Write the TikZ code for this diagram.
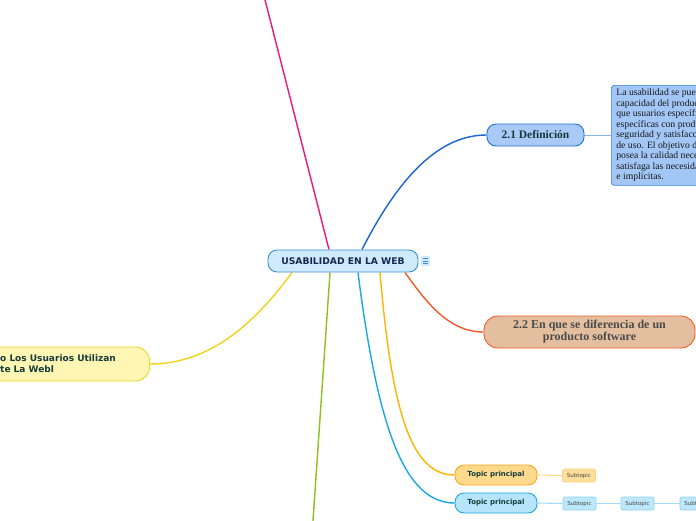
\documentclass[tikz,border=0pt]{standalone}
\usepackage{fontspec}
\usetikzlibrary{calc,backgrounds}
\newfontfamily\vsans{DejaVu Sans}
\newfontfamily\tserif{Liberation Serif}
\definecolor{cfill}{HTML}{CFEAFC}
\definecolor{cdraw}{HTML}{3C8FD4}
\definecolor{ctext}{HTML}{162A4E}
\definecolor{dfill}{HTML}{A9C9F7}
\definecolor{ddraw}{HTML}{1F6FD8}
\definecolor{gtext}{HTML}{133C3A}
\definecolor{tfill}{HTML}{A2C6F5}
\definecolor{tdraw}{HTML}{3A7FE0}
\definecolor{rfill}{HTML}{E3BF9F}
\definecolor{rdraw}{HTML}{F25A29}
\definecolor{rtext}{HTML}{4A4A4A}
\definecolor{yfill}{HTML}{FFF6B3}
\definecolor{ydraw}{HTML}{EFD624}
\definecolor{ofill}{HTML}{FFD98C}
\definecolor{odraw}{HTML}{F6A91C}
\definecolor{osfill}{HTML}{FFE09A}
\definecolor{osdraw}{HTML}{FFD27F}
\definecolor{bfill}{HTML}{B6E5FB}
\definecolor{bdraw}{HTML}{1BA7E6}
\definecolor{bsfill}{HTML}{BDE8FB}
\definecolor{bsdraw}{HTML}{8DD3F5}
\definecolor{pinkc}{HTML}{F2157A}
\definecolor{greenc}{HTML}{8CC21A}
\definecolor{yellowc}{HTML}{EFD41A}
\definecolor{cyanc}{HTML}{18A8E8}
\definecolor{orangec}{HTML}{FFB400}
\definecolor{redc}{HTML}{F05A28}
\definecolor{bluec}{HTML}{1A64D2}
\definecolor{olink}{HTML}{FFE08A}
\definecolor{blink}{HTML}{A5DCF5}
\definecolor{stext}{HTML}{444444}
\begin{document}
\begin{tikzpicture}[x=1pt,y=-1pt,
  conn/.style={line width=1.4pt},
  box/.style={draw, line width=0.9pt, inner sep=0pt},
  centerbox/.style={box, fill=cfill, draw=cdraw, minimum width=150pt, minimum height=22pt, rounded corners=9pt,
     font=\vsans\bfseries\fontsize{9.2}{10}\selectfont, text=ctext},
  defbox/.style={box, fill=dfill, draw=ddraw, minimum width=97pt, minimum height=22pt, rounded corners=9pt,
     font=\tserif\bfseries\fontsize{11.5}{12}\selectfont, text=gtext},
  textbox/.style={box, fill=tfill, draw=tdraw, line width=0.7pt, minimum width=120pt, minimum height=100pt, rounded corners=3pt,
     inner xsep=5pt, align=left, font=\tserif\fontsize{9.7}{10.5}\selectfont, text=black!90},
  diffbox/.style={box, fill=rfill, draw=rdraw, minimum width=211pt, minimum height=32pt, rounded corners=14pt,
     align=center, font=\tserif\bfseries\fontsize{12}{12}\selectfont, text=rtext},
  ybox/.style={box, fill=yfill, draw=ydraw, minimum width=220pt, minimum height=34pt, rounded corners=14pt},
  ytext/.style={inner sep=0pt, align=left, font=\vsans\bfseries\fontsize{9}{11}\selectfont, text=gtext},
  topicbox/.style={box, minimum width=82pt, minimum height=20pt, rounded corners=9pt,
     font=\vsans\bfseries\fontsize{7}{8}\selectfont, text=gtext},
  subbox/.style={box, line width=0.7pt, minimum width=33pt, minimum height=13pt, rounded corners=2pt,
     font=\vsans\fontsize{5.5}{6}\selectfont, text=stext},
  sublink/.style={line width=1.1pt}
]
\useasboundingbox (0,0) rectangle (696,520);
\clip (0,0) rectangle (696,520);

% nodes
\node[centerbox] (c) at (343,261) {USABILIDAD EN LA WEB};
\node[box, fill=cfill, draw=none, minimum width=9pt, minimum height=10pt] (ic) at (425.5,261) {};
\draw[cdraw, line width=0.8pt] ($(ic.center)+(-2.5,-2.5)$) -- ++(5,0)
  ($(ic.center)+(-2.5,0)$) -- ++(5,0) ($(ic.center)+(-2.5,2.5)$) -- ++(5,0);

\node[defbox] (d) at (535.5,135) {2.1 Definición};
\node[textbox, anchor=north west] (t) at (611,85) {La usabilidad se puede\\capacidad del producto\\que usuarios específicos\\específicas con productividad\\seguridad y satisfacción\\de uso. El objetivo de la\\posea la calidad necesaria\\satisfaga las necesidades\\e implícitas.};

\node[diffbox] (r) at (589.5,332) {2.2 En que se diferencia de un\\producto software};

\node[ybox, anchor=east] (y) at (150,364) {};
\node[ytext, anchor=west] (yt) at (0,364) {o Los Usuarios Utilizan\\te La Webl};

\node[topicbox, fill=ofill, draw=odraw] (o) at (496,475) {Topic principal};
\node[subbox, fill=osfill, draw=osdraw] (os) at (579,475.5) {Subtopic};

\node[topicbox, fill=bfill, draw=bdraw] (b) at (496,503) {Topic principal};
\node[subbox, fill=bsfill, draw=bsdraw] (bs1) at (579.5,503.5) {Subtopic};
\node[subbox, fill=bsfill, draw=bsdraw] (bs2) at (637.5,503.5) {Subtopic};
\node[subbox, fill=bsfill, draw=bsdraw] (bs3) at (696.5,503.5) {Subtopic};

\coordinate (top) at (263,-8);
\coordinate (bot) at (312.5,528);

% connectors
\begin{scope}[on background layer]
\draw[conn, pinkc] ($(c.north)+(-14,0)$) -- (top);
\draw[conn, greenc] ($(c.south)+(-13,0)$) -- (bot);
\draw[conn, yellowc] ($(c.south)+(-51,0)$) .. controls (250,330) and (205,364) .. (y.east);
\draw[conn, cyanc] ($(c.south)+(15,0)$) .. controls (378,430) and (405,503) .. (b.west);
\draw[conn, orangec] ($(c.south)+(37,0)$) .. controls (392,415) and (412,475) .. (o.west);
\draw[conn, redc] ($(c.south)+(62,0)$) .. controls (428,305) and (450,332) .. (r.west);
\draw[conn, bluec] ($(c.north)+(19,0)$) .. controls (400,175) and (440,135) .. (d.west);
\draw[tdraw!60, line width=0.7pt] (d.east) -- (d.east -| t.west);
\draw[sublink, olink] (o.east) -- (os.west);
\draw[sublink, blink] (b.east) -- (bs1.west);
\draw[sublink, blink] (bs1.east) -- (bs2.west);
\draw[sublink, blink] (bs2.east) -- (bs3.west);
\end{scope}
\end{tikzpicture}
\end{document}
